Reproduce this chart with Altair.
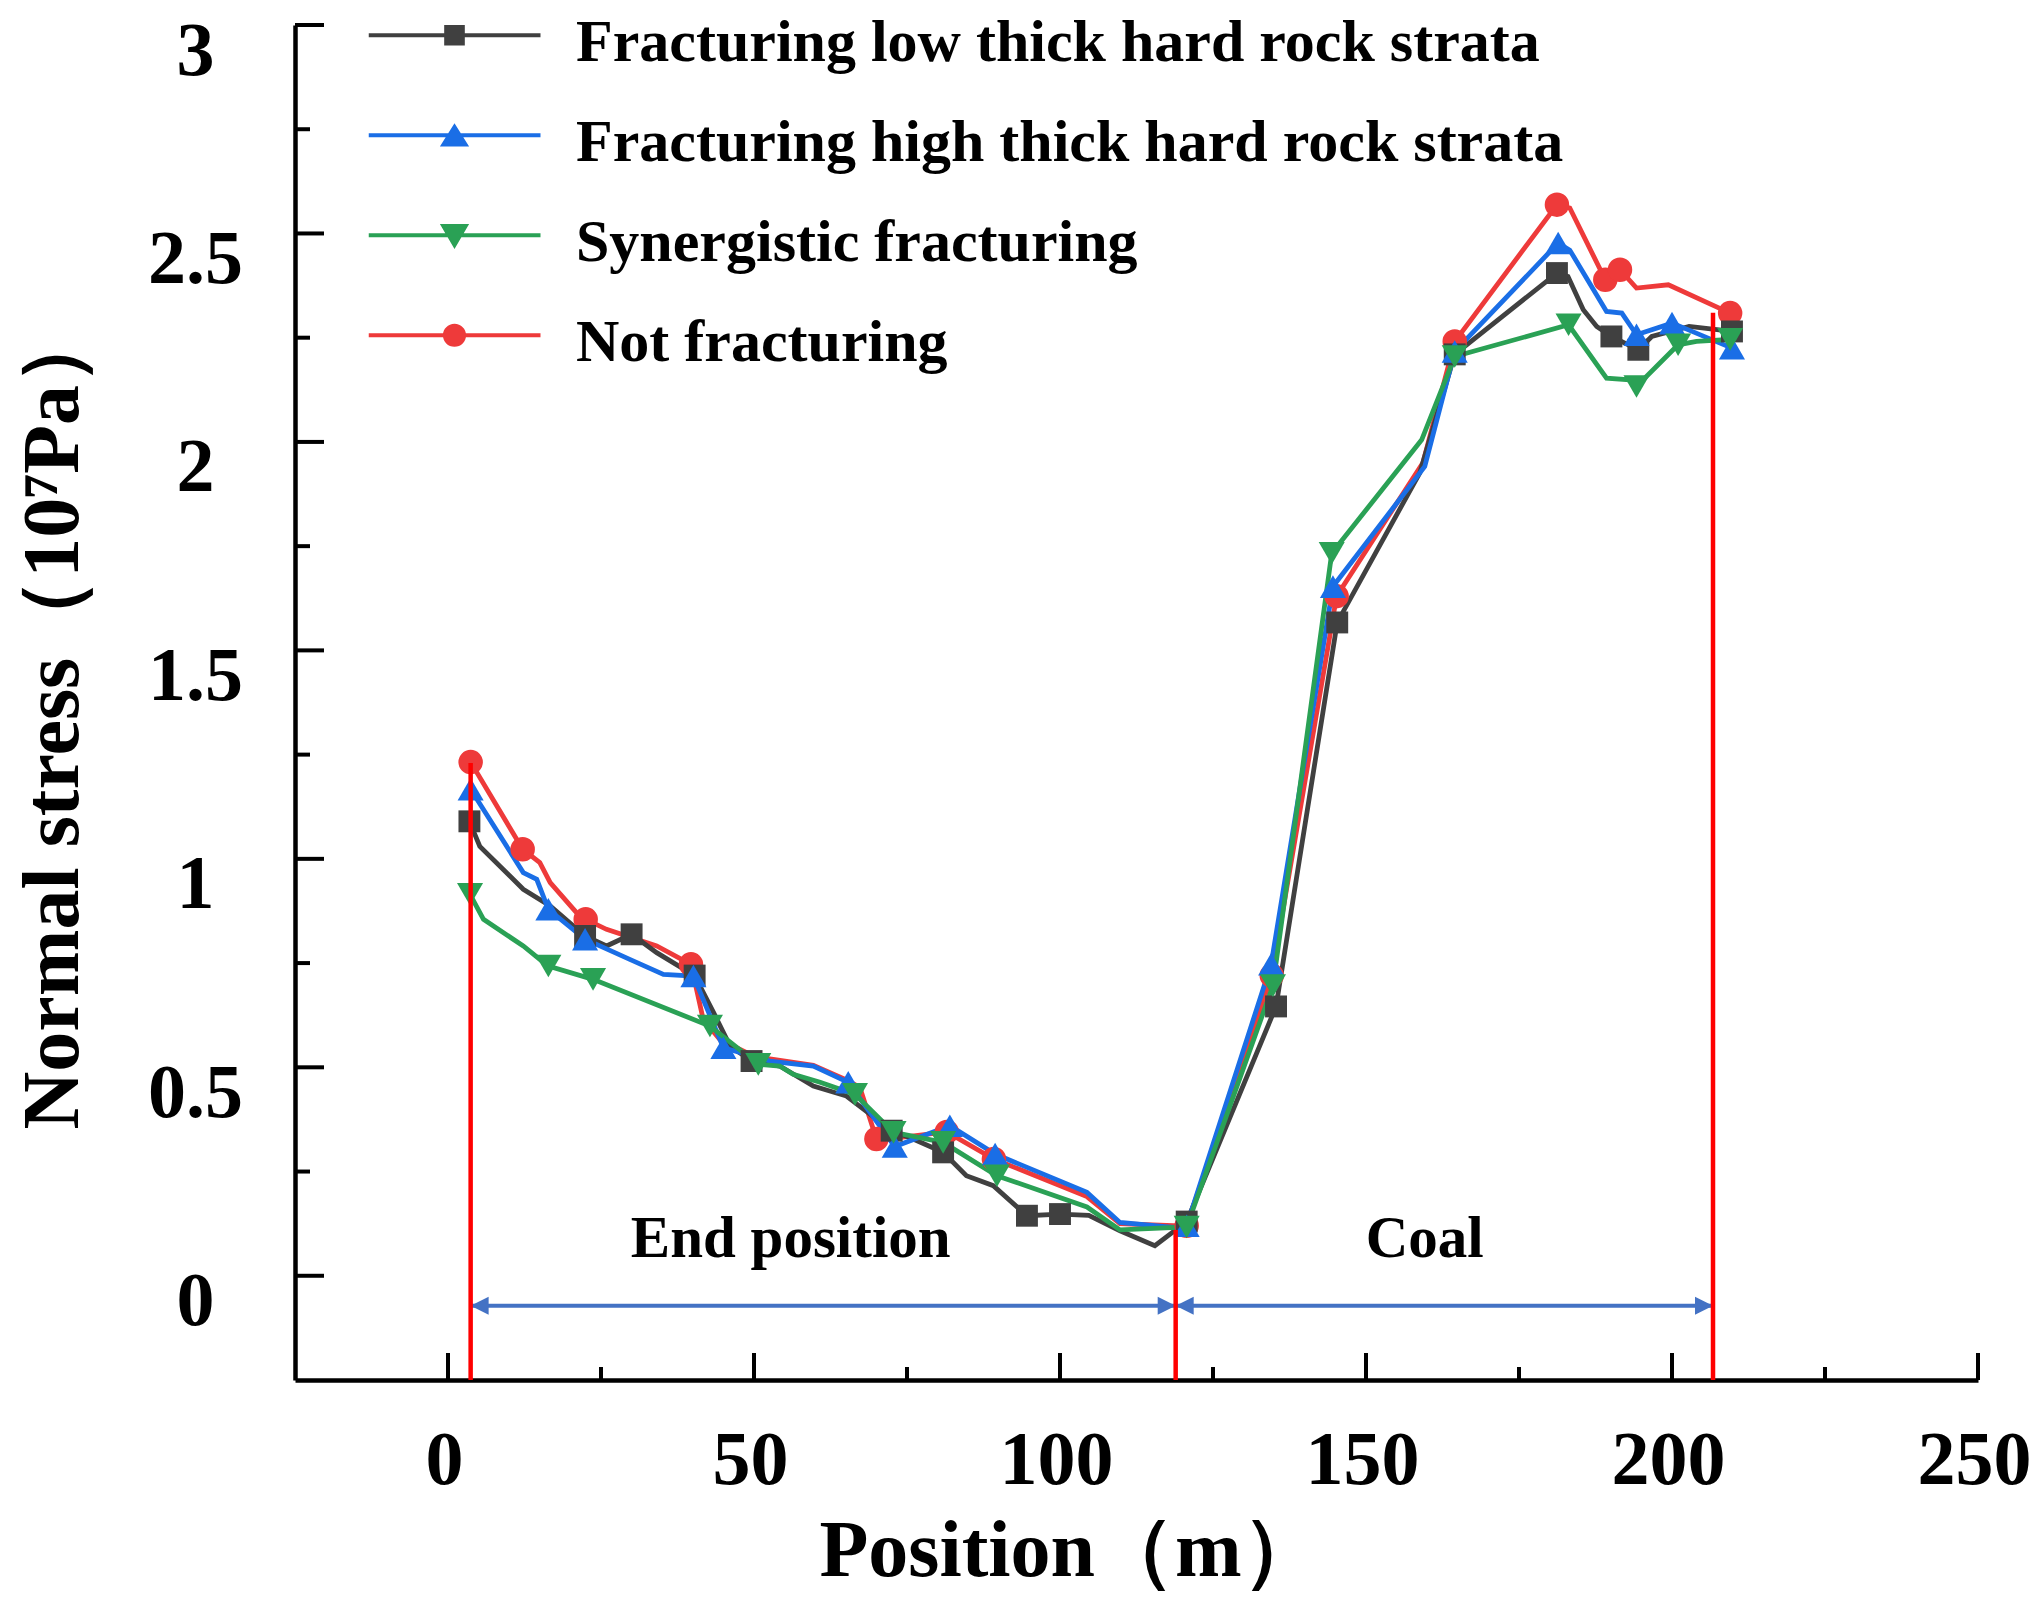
import altair as alt
import pandas as pd

# plot area in pixels, axes run from -25..250 and -0.25..3
W, H = 1683, 1355
FONT = "Liberation Serif"

SERIES = ["Fracturing low thick hard rock strata",
          "Fracturing high thick hard rock strata",
          "Synergistic fracturing",
          "Not fracturing"]
COLORS = ["#404040", "#1a6ee6", "#2aa155", "#ee3a3a"]
SHAPES = ["square", "triangle-up", "triangle-down", "circle"]
SIZES = [480, 680, 680, 600]
# legend glyphs (fill only): a thin bar with the marker in the middle
LEGEND_PATHS = [
    "M-1,-0.112H1V-0.068H-1ZM-0.12,-0.21H0.12V0.03H-0.12Z",
    "M-1,-0.112H1V-0.068H-1ZM-0.17,0.04L0,-0.23L0.17,0.04Z",
    "M-1,-0.112H1V-0.068H-1ZM-0.17,-0.22L0.17,-0.22L0,0.07Z",
    "M-1,-0.112H1V-0.068H-1ZM-0.135,-0.09A0.135,0.135 0 1,1 0.135,-0.09"
    "A0.135,0.135 0 1,1 -0.135,-0.09Z",
]

# Fracturing low thick hard rock strata (black squares)
LOW_X = [3.5, 5.2, 12.3, 16.7, 22.4, 25.9, 30.0, 34.1, 40.3, 43.4, 46.1, 49.6, 54.2,
         59.7, 65.1, 72.5, 76.0, 80.9, 84.7, 89.1, 94.6, 100.0, 104.7, 109.8, 115.5,
         120.7, 135.3, 145.3, 158.8, 164.5, 181.2, 183.0, 185.5, 187.7, 190.1, 194.5,
         196.7, 202.8, 209.8]
LOW_Y = [1.09, 1.03, 0.927, 0.887, 0.815, 0.791, 0.819, 0.775, 0.72, 0.631, 0.551, 0.515,
         0.503, 0.455, 0.431, 0.348, 0.328, 0.296, 0.24, 0.216, 0.144, 0.148, 0.145, 0.108,
         0.072, 0.13, 0.646, 1.567, 1.926, 2.21, 2.405, 2.397, 2.317, 2.277, 2.253, 2.221,
         2.253, 2.277, 2.265]
LOW_MARK = [3.5, 22.4, 30.0, 40.3, 49.6, 72.5, 80.9, 94.6, 100.0, 120.7, 135.3, 145.3,
            164.5, 181.2, 190.1, 194.5, 209.8]

# Fracturing high thick hard rock strata (blue triangles)
HIGH_X = [3.7, 12.3, 14.5, 16.4, 22.4, 29.7, 35.2, 40.1, 45.0, 52.6, 59.7, 65.4, 73.0,
          82.0, 89.4, 104.4, 109.8, 118.5, 120.7, 134.5, 144.6, 159.6, 164.5, 181.4,
          183.3, 189.3, 191.8, 194.2, 200.0, 202.5, 209.8]
HIGH_Y = [1.167, 0.967, 0.951, 0.879, 0.807, 0.759, 0.723, 0.719, 0.547, 0.515, 0.503,
          0.464, 0.31, 0.36, 0.292, 0.2, 0.128, 0.116, 0.12, 0.747, 1.653, 1.941, 2.217,
          2.477, 2.46, 2.313, 2.309, 2.257, 2.285, 2.27, 2.225]
HIGH_MARK = [3.7, 16.4, 22.4, 40.1, 45.0, 65.4, 73.0, 82.0, 89.4, 120.7, 134.5, 144.6,
             164.5, 181.4, 194.2, 200.0, 209.8]

# Synergistic fracturing (green down triangles)
SYN_X = [3.6, 5.8, 12.3, 15.0, 16.4, 23.7, 42.8, 50.7, 54.2, 56.4, 60.8, 66.5, 72.8,
         80.9, 89.7, 104.4, 109.8, 120.7, 134.8, 144.4, 159.1, 164.5, 183.1, 189.3,
         193.1, 194.2, 201.0, 204.0, 209.5]
SYN_Y = [0.915, 0.855, 0.791, 0.759, 0.743, 0.711, 0.599, 0.507, 0.503, 0.483, 0.464,
         0.435, 0.344, 0.32, 0.24, 0.165, 0.11, 0.117, 0.696, 1.733, 2.005, 2.205, 2.281,
         2.153, 2.149, 2.133, 2.233, 2.241, 2.246]
SYN_MARK = [3.6, 16.4, 23.7, 42.8, 50.7, 66.5, 72.8, 80.9, 89.7, 120.7, 134.8, 144.4,
            164.5, 183.1, 194.2, 201.0, 209.5]

# Not fracturing (red circles)
NOT_X = [3.7, 12.2, 15.0, 16.7, 21.0, 22.5, 25.9, 34.1, 39.7, 41.7, 44.4, 48.8, 52.6,
         59.7, 65.1, 67.3, 70.0, 73.0, 81.5, 89.2, 104.4, 109.8, 118.5, 120.7, 134.6,
         145.2, 159.3, 164.5, 181.2, 183.3, 189.1, 191.5, 194.2, 199.4, 209.5]
NOT_Y = [1.232, 1.023, 0.991, 0.943, 0.871, 0.855, 0.831, 0.791, 0.747, 0.615, 0.567,
         0.535, 0.52, 0.505, 0.47, 0.452, 0.328, 0.33, 0.345, 0.28, 0.19, 0.125, 0.12,
         0.12, 0.72, 1.63, 1.95, 2.241, 2.569, 2.561, 2.389, 2.413, 2.369, 2.377, 2.309]
NOT_MARK = [3.7, 12.2, 22.5, 39.7, 70.0, 81.5, 89.2, 120.7, 134.6, 145.2, 164.5, 181.2,
            189.1, 191.5, 209.5]

# section boundaries (red lines) and arrows
BOUND_X = [3.7, 118.9, 206.7]
BOUND_TOP = [1.23, 0.11, 2.31]
ARROW_Y = -0.072
REGION_TEXT = ["End position", "Coal"]
REGION_X = [56.0, 159.6]
REGION_Y = [0.045, 0.045]

X_MAJOR = [0, 50, 100, 150, 200, 250]
X_MINOR = [25, 75, 125, 175, 225]
Y_MAJOR = [0, 0.5, 1, 1.5, 2, 2.5, 3]
Y_MINOR = [0.25, 0.75, 1.25, 1.75, 2.25, 2.75]


def frame(name, xs, ys, marks):
    return pd.DataFrame({"series": name, "x": xs, "y": ys,
                         "marker": [v in marks for v in xs], "k": range(len(xs))})


# draw order: red first, then black, blue, green on top
DRAW_ORDER = [3, 0, 1, 2]
frames = {
    0: frame(SERIES[0], LOW_X, LOW_Y, LOW_MARK),
    1: frame(SERIES[1], HIGH_X, HIGH_Y, HIGH_MARK),
    2: frame(SERIES[2], SYN_X, SYN_Y, SYN_MARK),
    3: frame(SERIES[3], NOT_X, NOT_Y, NOT_MARK),
}
data = pd.concat([frames[i] for i in DRAW_ORDER], ignore_index=True)
marks = data[data["marker"]]

xs = alt.Scale(domain=[-25, 250], nice=False, zero=False)
ys = alt.Scale(domain=[-0.25, 3], nice=False, zero=False)

x_axis = alt.Axis(values=X_MAJOR, format="~g", title="Position（m）", grid=False,
                  ticks=False, tickSize=0, domainColor="black", domainWidth=4.5,
                  labelFont=FONT, labelFontSize=76, labelFontWeight="bold",
                  labelColor="black", labelPadding=43, labelOffset=-4,
                  labelFlush=False, labelOverlap=False,
                  titleFont=FONT, titleFontSize=80, titleFontWeight="bold",
                  titleColor="black", titleX=524, titleY=195, titleAlign="left",
                  titleBaseline="alphabetic")
y_axis = alt.Axis(values=Y_MAJOR, format="~g", title="Normal stress（10⁷Pa）", grid=False,
                  ticks=False, tickSize=0, domainColor="black", domainWidth=4.5,
                  labelFont=FONT, labelFontSize=76, labelFontWeight="bold",
                  labelColor="black", labelPadding=100, labelAlign="center",
                  labelBaseline="middle", labelOffset=26, labelFlush=False,
                  labelOverlap=False,
                  titleFont=FONT, titleFontSize=80, titleFontWeight="bold",
                  titleColor="black", titleAngle=270, titleX=-218, titleY=1104,
                  titleAlign="left", titleBaseline="alphabetic")

# axes come from an invisible copy of the data
axes_layer = alt.Chart(data).mark_point(opacity=0).encode(
    x=alt.X("x:Q", scale=xs, axis=x_axis),
    y=alt.Y("y:Q", scale=ys, axis=y_axis),
)

# one line and one marker layer per series, in draw order
line_layers = []
point_layers = []
for i in DRAW_ORDER:
    rows = data[data["series"] == SERIES[i]]
    line_layers.append(
        alt.Chart(rows).mark_line(strokeWidth=4.8, color=COLORS[i]).encode(
            x=alt.X("x:Q", scale=xs), y=alt.Y("y:Q", scale=ys), order="k:Q")
    )
    point_layers.append(
        alt.Chart(rows[rows["marker"]]).mark_point(
            filled=True, opacity=1, size=SIZES[i], shape=SHAPES[i], color=COLORS[i]
        ).encode(x=alt.X("x:Q", scale=xs), y=alt.Y("y:Q", scale=ys))
    )

legend = alt.Legend(title=None, orient="none", legendX=73.5, legendY=-32,
                    direction="vertical", symbolSize=29584, symbolStrokeWidth=0,
                    symbolOpacity=1, clipHeight=100, rowPadding=0, labelOffset=35.5,
                    labelFont=FONT, labelFontSize=60, labelFontWeight="bold",
                    labelColor="black", labelLimit=2000, padding=0)

# legend only: no rows drawn, the scales carry the entries
legend_layer = alt.Chart(marks).transform_filter("false").mark_point(
    filled=True, opacity=1
).encode(
    x=alt.X("x:Q", scale=xs),
    y=alt.Y("y:Q", scale=ys),
    color=alt.Color("series:N", scale=alt.Scale(domain=SERIES, range=COLORS), legend=legend),
    shape=alt.Shape("series:N", scale=alt.Scale(domain=SERIES, range=LEGEND_PATHS), legend=legend),
)

bounds = pd.DataFrame({"x": BOUND_X, "top": BOUND_TOP, "bottom": -0.25})
red_lines = alt.Chart(bounds).mark_rule(color="#ff0000", strokeWidth=4.5).encode(
    x=alt.X("x:Q", scale=xs),
    y=alt.Y("bottom:Q", scale=ys),
    y2="top:Q",
)

arrows = pd.DataFrame({"x": BOUND_X[:-1], "x2": BOUND_X[1:], "y": ARROW_Y})
arrow_lines = alt.Chart(arrows).mark_rule(color="#4472c4", strokeWidth=4).encode(
    x=alt.X("x:Q", scale=xs),
    x2="x2:Q",
    y=alt.Y("y:Q", scale=ys),
)
left_heads = alt.Chart(arrows).mark_point(
    shape="M0,0L2,-1L2,1Z", filled=True, opacity=1, size=324, color="#4472c4"
).encode(x=alt.X("x:Q", scale=xs), y=alt.Y("y:Q", scale=ys))
right_heads = alt.Chart(arrows).mark_point(
    shape="M0,0L-2,-1L-2,1Z", filled=True, opacity=1, size=324, color="#4472c4"
).encode(x=alt.X("x2:Q", scale=xs), y=alt.Y("y:Q", scale=ys))

regions = pd.DataFrame({"label": REGION_TEXT, "x": REGION_X, "y": REGION_Y})
region_text = alt.Chart(regions).mark_text(
    font=FONT, fontSize=59, fontWeight="bold", color="black",
    align="center", baseline="alphabetic"
).encode(x=alt.X("x:Q", scale=xs), y=alt.Y("y:Q", scale=ys), text="label:N")


def x_ticks(vals, length):
    return alt.Chart(pd.DataFrame({"v": vals})).mark_rule(color="black", strokeWidth=4).encode(
        x=alt.X("v:Q", scale=xs), y=alt.value(H), y2=alt.value(H - length))


def y_ticks(vals, length):
    return alt.Chart(pd.DataFrame({"v": vals})).mark_rule(color="black", strokeWidth=4).encode(
        y=alt.Y("v:Q", scale=ys), x=alt.value(0), x2=alt.value(length))


chart = alt.layer(
    axes_layer,
    x_ticks(X_MAJOR, 27), x_ticks(X_MINOR, 13),
    y_ticks(Y_MAJOR, 29), y_ticks(Y_MINOR, 15),
    *line_layers, *point_layers, legend_layer,
    arrow_lines, left_heads, right_heads,
    red_lines, region_text,
).properties(
    width=W, height=H,
    autosize=alt.AutoSizeParams(type="none"),
    padding={"left": 287, "top": 17, "right": 57, "bottom": 216},
).configure_view(strokeWidth=0)

chart.save("out.html", embed_options={"renderer": "svg", "actions": False})
